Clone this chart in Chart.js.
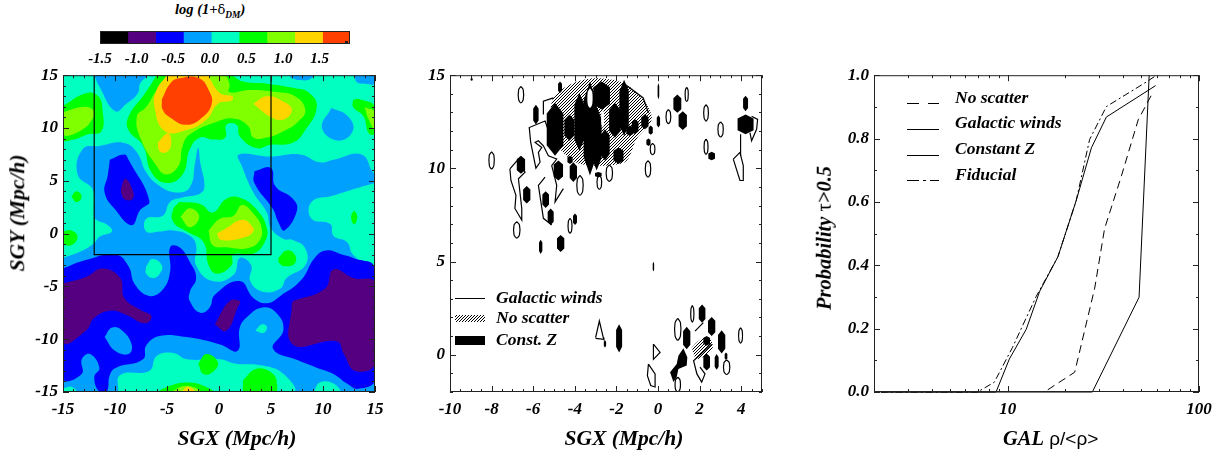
<!DOCTYPE html>
<html>
<head>
<meta charset="utf-8">
<script src="https://cdn.jsdelivr.net/npm/chart.js@4"></script>
<style>
  html, body { margin: 0; padding: 0; background: #fff; }
  body { width: 1225px; height: 452px; position: relative; overflow: hidden; font-family: "Liberation Serif", serif; }
  canvas { position: absolute; }
  .txt { position: absolute; white-space: nowrap; color: #000; line-height: 1; }
  .bi { font-weight: bold; font-style: italic; }
  .axt { font-weight: bold; font-style: italic; font-size: 21.5px; transform: translate(-50%, -50%); }
  .rot { transform: translate(-50%, -50%) rotate(-90deg); }
  sub { font-size: 65%; line-height: 0; }
</style>
</head>
<body>
<canvas id="barChart" width="340" height="50" style="left:60px;top:20px"></canvas>
<canvas id="mapChart" width="400" height="392" style="left:0;top:60px"></canvas>
<canvas id="maskChart" width="380" height="392" style="left:400px;top:60px"></canvas>
<canvas id="probChart" width="425" height="392" style="left:800px;top:60px"></canvas>
<div class="txt bi" style="left:175px;top:2px;font-size:14.5px">log (1+<span style="font-family:'DejaVu Serif';font-style:normal;font-weight:normal;font-size:13px">δ</span><sub>DM</sub>)</div>
<div class="txt axt" style="left:237px;top:439px">SGX (Mpc/h)</div>
<div class="txt axt rot" style="left:18px;top:213px">SGY (Mpc/h)</div>
<div class="txt axt" style="left:624px;top:439px">SGX (Mpc/h)</div>
<div class="txt axt rot" style="left:824px;top:238px;font-size:20.5px">Probability <span style="font-style:normal;font-weight:normal">τ</span>&gt;0.5</div>
<div class="txt" style="left:1003px;top:428px;font-size:19px;font-family:'Liberation Sans'"><span class="bi" style="font-family:'Liberation Serif';font-size:20.5px">GAL</span> ρ/&lt;ρ&gt;</div>
<script>
// colour bar
const barEdges = [-1.5, -1.12, -0.74, -0.36, 0.02, 0.40, 0.78, 1.16, 1.54, 1.92];
const barColors = ['#000000', '#550080', '#0000ff', '#00a0ff', '#00ffc0', '#00ff00', '#80ff00', '#ffd500', '#ff4000'];
const barTicks = [-1.5, -1, -0.5, 0, 0.5, 1, 1.5];

// left panel contours, [SGX, SGY] in Mpc/h, one list per level
const lightBlueBase = [[-15, 15], [15, 15], [15, -15], [-15, -15]];
const tealRegions = [
  [[-15, -2.3], [-13.1, -1.6], [-12, -0.9], [-11.5, -0.3], [-10.3, 0.2], [-10.7, 0.8], [-11.8, 1.3], [-12, 1.7], [-12.1, 4.1], [-13.6, 5.6], [-13.1, 8], [-11.5, 8.3], [-9.2, 8.6], [-7.9, 7.7], [-7, 5.8], [-5.7, 4.5], [-4.1, 3.9], [-2.8, 4.4], [-2.3, 6.7], [-2, 8.1], [-1.8, 6.7], [-1.4, 4.5], [-1.8, 3.8], [-3.6, 3.4], [-4.7, 3], [-5.4, 1.7], [-7, 1.4], [-7, 0.2], [-5.7, 0.2], [-4.4, 0.3], [-2.8, -0.2], [-2.2, -1.1], [-2.2, -3], [-0.6, -4.5], [1.4, -3.9], [2, -2.3], [3.1, -3], [3, -4.5], [4.2, -5.5], [5.9, -5.2], [6.5, -4.2], [8.3, -3], [8.3, -1.4], [7.1, -0.6], [6.2, -0.5], [5, 0.5], [4.6, 2], [3.3, 3.9], [2.2, 6.4], [1.9, 7.5], [4.9, 7.3], [7.8, 7.5], [9.7, 6.75], [11, 7], [13.7, 7.5], [14.8, 5.8], [15, 5.7], [15, 14.9], [15, 15], [14.9, 15], [-14.9, 15], [-15, 15], [-15, 14.9]],
  [[15, 4.8], [12.9, 4.2], [11, 3.6], [8.9, 3], [8.9, 1.4], [10.7, 0.9], [11, -0.2], [12.3, -0.8], [12.9, -2], [15, -3.3]],
  [[-9.7, -15], [-9.5, -13.4], [-6.7, -13], [-6, -11.6], [-4.4, -11.3], [-3.1, -11.9], [0.1, -11.9], [1.5, -12.3], [4.2, -12.5], [6.2, -13.3], [7.1, -15]],
  [[9.1, -15], [9.7, -14.1], [11, -14.2], [11.6, -15]],
  [[-15, -14.7], [-14.2, -14.5], [-13.7, -15], [-15, -15]],
  [[-7, -3.1], [-6.4, -2.4], [-5.5, -3], [-5.7, -3.8], [-6.3, -4.2], [-7, -3.8]],
];
const lightBlueHoles = [
  [[-12, 15], [-11.5, 13.9], [-10, 11.6], [-8.9, 12.3], [-7.8, 13.3], [-7.6, 14.2], [-7, 15]],
  [[10.8, 11.9], [9.9, 10], [11.5, 8.8], [12.9, 9.8], [12.3, 11.2]],
  [[13, 15], [13.3, 14.3], [14, 14.2], [15, 14.2], [15, 15]],
  [[6.8, 15], [7, 14.7], [8.2, 14.5], [8.9, 14.7], [9, 15]],
];
const blueRegions = [
  [[-15, -3.3], [-12.8, -2.5], [-9.9, -2], [-8.7, -3.1], [-8.1, -4.8], [-6.7, -5.9], [-5.4, -5.3], [-4.7, -3.6], [-4.7, -1.3], [-3.8, -1.3], [-2.8, -2.7], [-2.2, -4.2], [-2.8, -5.5], [-2.8, -6.4], [-1.8, -7.5], [-0.9, -7], [-0.4, -5.8], [2, -4.5], [3.3, -6.1], [4.6, -6.6], [5.9, -5.9], [7.9, -4.4], [9.2, -2.3], [10.3, -1.6], [11.9, -2], [12.9, -2.3], [15, -3.3], [15, -13.8], [13.4, -14.7], [12.3, -14.2], [11, -13.3], [9.4, -12.7], [7.6, -12], [5.2, -10.9], [6.2, -9.1], [5.5, -7.5], [4.2, -7], [2.8, -7.8], [2, -8.9], [1.8, -11.1], [0.1, -10.5], [-3.1, -9.8], [-5.7, -9.7], [-7, -10.6], [-7.3, -11.9], [-9.9, -12.7], [-10.5, -13.4], [-10.8, -15], [-11.5, -15], [-12, -13.6], [-11.5, -12.7], [-12.4, -11.4], [-13.2, -11.9], [-13.2, -13.3], [-15, -13.7]],
  [[-10.5, 7], [-9.1, 7.5], [-8.7, 7], [-6.7, 3.1], [-7.6, 2.2], [-8.4, 0.8], [-10, 2.3], [-11, 3.9], [-10.7, 5.5]],
  [[3.4, 5.9], [5, 6.2], [5.4, 4.5], [7.1, 3.3], [7.5, 2.2], [6.3, 0.3], [5.7, 1.1], [5.2, 2.3], [3.4, 4.8]],
];
const lightBlueIslands = [
  [[-11, -9.8], [-10.3, -8.9], [-9.4, -9.1], [-8.4, -10.5], [-8.7, -11.4], [-10, -11.1]],
];
const tealSpots = [
  [[3.5, -9.2], [4.1, -8.6], [4.6, -8.8], [4.3, -9.4]],
];
const purpleRegions = [
  [[-15, -4.7], [-12.8, -4.1], [-11.2, -3.3], [-9.5, -4.2], [-9.1, -6.1], [-7.6, -7.2], [-6.5, -7.8], [-7.1, -8.5], [-8.9, -7.7], [-10.5, -7.3], [-12, -8], [-12.8, -9.2], [-15, -10.3]],
  [[7.1, -6.4], [10.2, -5.2], [11, -3.4], [12.9, -4.2], [15, -4.7], [15, -12.3], [13.1, -13], [12, -11.4], [11.3, -10.2], [7.1, -10.5], [7, -6.7]],
  [[-0.4, -8.6], [1, -6.4], [2, -6.4], [1.8, -7], [0.7, -9.2]],
  [[-9.4, 4.4], [-9, 5.2], [-8.3, 4.1], [-8.3, 3.3], [-9, 3.2], [-9.4, 3.8]],
];
const greenRegions = [
  [[-6, 15], [-7.1, 13.3], [-8.7, 11.1], [-8.7, 9.8], [-7.3, 8.3], [-6.5, 5.8], [-5.1, 4.8], [-3.5, 5.6], [-2.8, 8], [-1.8, 9.1], [-0.6, 8.9], [0.6, 9.1], [0.7, 10.3], [1.7, 10.3], [2, 9.2], [3.6, 8.1], [4.9, 8.4], [7.1, 8.6], [8.3, 9.8], [9.4, 12], [8.7, 13.3], [7.1, 13.8], [4.6, 14.2], [2.3, 14.4], [1, 15]],
  [[-15, 12.1], [-12.8, 13.3], [-11.6, 13], [-11.2, 11.7], [-11.3, 9.7], [-12.6, 9.4], [-14, 8.9], [-15, 8.9]],
  [[12.9, 12.7], [13.6, 12.7], [15, 12], [15, 9.5], [14.4, 9.5], [13.9, 11.1], [12.9, 12]],
  [[-3.8, 3], [-1.8, 2.8], [-0.6, 2], [0.7, 3.3], [2, 3.4], [3.6, 2.3], [4.6, 0.5], [4.4, -0.8], [3.3, -1.9], [1.4, -2], [1.2, -3], [-0.2, -3.8], [-1, -3], [-1.5, -0.8], [-3.1, 0.2], [-4.4, 1.1], [-4.4, 2.3]],
  [[5.7, -2.3], [6.5, -1.6], [7.3, -2], [7.3, -2.8], [6.5, -3.1], [5.8, -2.8]],
  [[-14.2, 3.5], [-13.7, 4], [-13.2, 3.5], [-13.7, 3]],
  [[-15, 0.2], [-14.2, 0.3], [-13.6, -0.3], [-14.2, -1.1], [-15, -0.9]],
  [[13, 2.2], [13.3, 1.6], [13, 0.9], [12.7, 1.6]],
  [[-2, -12.3], [-1.2, -11.4], [-0.1, -12.2], [-0.6, -13.1], [-1.5, -13.3]],
  [[2.3, -13.9], [3.6, -12.8], [5.2, -13.3], [5.6, -14.5], [5.4, -15], [2.5, -15]],
  [[-6, -15], [-4.7, -14.4], [-3.1, -14.1], [-1.5, -14.4], [-0.6, -15]],
];
const limeRegions = [
  [[-5, 15], [-6.2, 13.3], [-7, 12], [-7.9, 11.1], [-7.5, 8.9], [-6, 6.4], [-5.1, 5.6], [-3.9, 6.4], [-3.5, 8.3], [-2.8, 9.4], [-0.2, 10.6], [1.4, 10.9], [2.8, 10.2], [3.3, 9.1], [4.6, 9.1], [6.2, 9.7], [7.6, 10.6], [8.3, 11.7], [7.3, 13], [5.5, 13.4], [3, 13.6], [1, 13.4], [1, 14.2], [0.4, 15]],
  [[-15, 11.5], [-13.1, 12], [-12.1, 11.7], [-12.2, 10.8], [-13.4, 9.7], [-15, 9.4]],
  [[14, 12], [15, 11.5], [15, 9.8], [14.4, 10.8]],
  [[-3.7, 1.6], [-2.8, 2.4], [-1.9, 1.6], [-2.8, 0.6]],
  [[-1, 0.3], [0.1, 1.4], [1.4, 1.7], [2.2, 2.7], [3.3, 1.9], [4.1, 0.5], [3.8, -0.8], [2.6, -1.4], [0.7, -1.3], [-0.6, -1.1]],
  [[-4.7, -15], [-3.1, -14.4], [-1.8, -15]],
];
const yellowRegions = [
  [[-5, 15], [-6, 13.6], [-6.2, 12], [-5.2, 9.7], [-3.1, 9.8], [-1.2, 10.8], [-0.1, 12.3], [1.2, 12.6], [1.3, 13], [0.1, 13.3], [-0.9, 14.7], [-1, 15]],
  [[-5.9, 8.6], [-4.9, 9.5], [-4.6, 8.4], [-5.1, 7.7], [-5.7, 7.8]],
  [[3.3, 12.3], [4.6, 13], [6.2, 12.5], [7, 11.7], [6.2, 10.8], [4.9, 11.1]],
  [[-0.2, 0], [0.7, 0.5], [2.2, 1.3], [3.1, 0.8], [3.3, 0.2], [2.3, -0.4], [0.2, -0.6]],
  [[-3.6, -15], [-3, -14.5], [-2.3, -15]],
];
const redRegions = [
  [[-5.5, 12.7], [-4.7, 14.2], [-3.8, 14.7], [-1.9, 14.7], [-0.9, 13.4], [-0.7, 12.3], [-1.5, 11.1], [-3.1, 10.3], [-4.7, 11], [-5.4, 11.7]],
];
const boxOutline = [[-12, 15], [5, 15], [5, -2], [-12, -2], [-12, 15]];

// middle panel, blobs are [SGX centre, top SGY, bottom SGY, width]
const constZBlobs = [
  [-4.95, 13.51, 10.68, .8], [-4.26, 12.89, 11.48, .48], [-3.78, 14.04, 10.95, .48], [-3.27, 14.66, 9.62, .61],
  [-2.71, 14.66, 13.16, .8], [-2.95, 13.34, 9.88, .48], [-2.07, 13.51, 11.65, .56], [-1.63, 14.75, 11.74, .45],
  [-1.9, 11.12, 10.24, .48], [-2.55, 12.1, 10.42, .45], [-1.1, 12.63, 11.83, .32], [-.63, 12.9, 12.1, .35],
  [-.35, 12.3, 11.8, .2], [-1.35, 12.3, 11.74, .35], [-4.23, 10.68, 10.24, .25],
  [.02, 12.85, 12.2, .16], [-.46, 11.6, 11.2, .2],
  [-6.59, 10.68, 9.71, .4], [-6.31, 9.05, 8.12, .35], [-5.4, 8.77, 7.88, .32], [-5.16, 7.85, 6.96, .29],
  [-4.79, 10.42, 9.35, .45], [-4.07, 10.33, 9.27, .35], [-4.68, 6.43, 5.51, .35], [-3.99, 7.58, 6.96, .19],
  [.93, 13.96, 12.98, .38], [1.19, 13.07, 12.06, .4], [4.21, 13.9, 13.07, .24], [4.21, 12.89, 11.83, .77],
  [2.58, 10.89, 10.43, .32], [.02, 14.58, 13.69, .08], [-2.87, 9.8, 9.53, .32], [-5.87, 13.42, 12.36, .26],
  [-4.71, 14.66, 14.04, .19], [-5.64, 6.17, 5.41, .16], [-.22, 4.99, 4.46, .07], [-8.96, 14.85, 14.7, .1],
  [-1.87, 1.63, .12, .29], [-2.55, .78, .39, .11], [2.12, 2.69, 1.72, .32], [2.58, 2.02, 1.01, .35],
  [1.38, 1.5, .3, .35], [3.06, 1.31, .07, .35], [2.34, .07, -.85, .32], [2.82, .04, -.81, .19],
  [2.34, 1.01, .48, .32], [3.27, .12, -.28, .13],
];
const constZChain = [[1.22, .35], [1.41, -.14], [1.38, -.58], [.98, -.76], [.9, -1.2], [.74, -1.47], [.58, -.94], [.9, -.5], [.98, -.05]];
const whiteGaps = [[-3.27, 14.3, 13.25, .22], [-2.66, 13.16, 12.19, .13]];
const windOvals = [
  [-6.59, 14.4, 13.51, .22], [-8, 10.89, 9.97, .22], [1.38, 14.35, 13.6, .13], [.5, 13.16, 12.4, .19],
  [2.31, 13.42, 12.54, .19], [3.01, 12.49, 11.69, .22], [-.26, 11.34, 10.73, .19], [-.48, 10.42, 9.53, .22],
  [-2.34, 10.19, 9.3, .26], [-2.82, 9.62, 8.88, .19], [-3.75, 9.62, 8.56, .26], [-4.23, 7.32, 6.52, .16],
  [-6.79, 7.14, 6.26, .26], [2.31, 11.57, 10.75, .16], [1.65, 2.64, 1.75, .13], [.95, 1.95, .78, .26],
  [3.97, 1.45, .62, .16], [3.3, -.28, -1.06, .26], [.95, -1.2, -2, .22],
];
const windLines = [
  [[-7.12, 9.97], [-7.07, 9.35], [-6.83, 8.56], [-6.88, 7.85], [-6.55, 7.23], [-6.55, 7.85], [-6.71, 9.44], [-6.39, 9.8], [-6.71, 10.5], [-7.12, 9.97]],
  [[-5.32, 12.19], [-5.43, 12.54], [-6.19, 12.19], [-6.12, 11.39], [-5.87, 10.01], [-5.67, 10.33], [-5.75, 10.86], [-5.59, 11.12], [-5.91, 11.39], [-5.75, 11.48], [-5.51, 11.21], [-5.27, 10.68], [-4.87, 10.5], [-5.11, 10.15], [-4.87, 9.09], [-4.95, 8.2], [-4.55, 8.91]],
  [[-5.43, 9.53], [-5.75, 9.09], [-5.51, 7.32], [-5.11, 6.96]],
  [[-5.51, 12.89], [-5.51, 13.6], [-5.03, 13.78]],
  [[-1.67, 14.58], [-.71, 13.78], [-.46, 12.98]],
  [[3.62, 10.5], [3.94, 10.86], [4.1, 10.15], [4.1, 9.35], [3.94, 9.35], [3.62, 10.5]],
  [[4.5, 12.8], [4.79, 12.63], [4.74, 12.1], [4.5, 11.48], [4.42, 11.92]],
  [[3.97, 11.83], [3.97, 10.68]],
  [[-3, .92], [-2.82, 1.81], [-2.63, .92], [-2.6, .83], [-3, .88]],
  [[-.22, .57], [.1, .12], [-.22, -.25], [-.22, .57]],
  [[-.46, -.5], [-.14, -1.03], [-.14, -1.73], [-.35, -1.65], [-.51, -1.12], [-.46, -.5]],
  [[1.78, 1.27], [2.18, 1.72]],
  [[2.58, .57], [1.71, -.32], [1.87, -1.03], [2.1, -1.47], [2.26, -1.03], [2.02, -.67]],
];
const noScatterPatches = [
  [[-5.2, 12.27], [-5.03, 13.8], [-4.07, 14.58], [-2.95, 14.84], [-1.67, 14.58], [-.71, 13.69], [-.3, 12.63], [-1.03, 11.57], [-1.6, 10.33], [-3.75, 10.24], [-4.71, 11.04]],
  [[1.62, .39], [2.18, .92], [2.58, .74], [2.58, .21], [1.86, -.23]],
];

// right panel curves
const noScatterX = [16.2, 22.4, 28.5, 32.1, 39.3, 48.1, 56.5];
const noScatterY = [0.007, 0.0625, 0.328, 0.516, 0.682, 0.859, 0.938];
const windsX = [2.17, 8.69, 10.2, 12.5, 14.7, 18.3, 22.8, 27.4, 32.8, 59.3];
const windsY = [0, 0, 0.104, 0.198, 0.318, 0.427, 0.604, 0.771, 0.868, 0.967];
const constZX = [2.17, 27.7, 48.6, 54.9];
const constZY = [0, 0, 0.299, 1];
const fiducialX = [2.17, 6.96, 8.51, 10.6, 14.1, 18.3, 22.8, 26.8, 32.8, 53.2, 60];
const fiducialY = [0, 0, 0.031, 0.141, 0.302, 0.427, 0.604, 0.797, 0.901, 0.979, 1];

const logXMajor = [10, 100];
const logXMinor = [2, 3, 4, 5, 6, 7, 8, 9, 20, 30, 40, 50, 60, 70, 80, 90];
const probMajor = [0, 0.2, 0.4, 0.6, 0.8, 1];
const probMinor = [0.1, 0.3, 0.5, 0.7, 0.9];

const SERIF = 'Liberation Serif';
const tickFont = { family: SERIF, size: 17, weight: 'bold', style: 'italic' };
const legendFont = 'italic bold 17.5px "Liberation Serif"';

function range(from, to, step) {
  const out = [];
  for (let v = from; v <= to + 1e-9; v += step) out.push(+v.toFixed(3));
  return out;
}
function hexOutline(b) {
  const [cx, top, bot, w] = b;
  const h = (top - bot) * 0.2;
  return [[cx, top], [cx + w / 2, top - h], [cx + w / 2, bot + h], [cx, bot], [cx - w / 2, bot + h], [cx - w / 2, top - h], [cx, top]];
}
function toPoints(list) { return list.map(p => ({ x: p[0], y: p[1] })); }
function closed(list) { return list.concat([list[0]]); }
function area(list, color, tension) {
  return { data: toPoints(closed(list)), showLine: true, fill: 'shape', backgroundColor: color, borderColor: color, borderWidth: 0, pointRadius: 0, tension: tension };
}
function outline(list, tension) {
  return { data: toPoints(list), showLine: true, fill: false, borderColor: '#000', borderWidth: 1.2, pointRadius: 0, tension: tension || 0 };
}

// IDL style frame with inward ticks on all four sides
const frameTicks = {
  id: 'frameTicks',
  afterDatasetsDraw(chart, args, opts) {
    const { ctx, chartArea: a, scales } = chart;
    ctx.save();
    ctx.strokeStyle = '#222';
    ctx.lineWidth = 1;
    ctx.strokeRect(a.left + 0.5, a.top + 0.5, a.right - a.left - 1, a.bottom - a.top - 1);
    ctx.beginPath();
    const xTick = (v, len) => {
      const x = Math.round(scales.x.getPixelForValue(v)) + 0.5;
      ctx.moveTo(x, a.bottom); ctx.lineTo(x, a.bottom - len);
      if (!opts.bottomOnly) { ctx.moveTo(x, a.top); ctx.lineTo(x, a.top + len); }
    };
    const yTick = (v, len) => {
      const y = Math.round(scales.y.getPixelForValue(v)) + 0.5;
      ctx.moveTo(a.left, y); ctx.lineTo(a.left + len, y);
      ctx.moveTo(a.right, y); ctx.lineTo(a.right - len, y);
    };
    (opts.xMajor || []).forEach(v => xTick(v, 6));
    (opts.xMinor || []).forEach(v => xTick(v, 3));
    (opts.yMajor || []).forEach(v => yTick(v, 6));
    (opts.yMinor || []).forEach(v => yTick(v, 3));
    ctx.stroke();
    ctx.restore();
  }
};

// legend drawn inside the plot: keys and labels
function insetLegend(id, items, keyX, keyW, textX) {
  return {
    id: id,
    afterDraw(chart) {
      const { ctx } = chart;
      ctx.save();
      ctx.font = legendFont;
      ctx.textBaseline = 'middle';
      items.forEach(it => {
        ctx.fillStyle = '#000';
        ctx.fillText(it.label, textX, it.textY);
        if (it.swatch) {
          ctx.fillStyle = it.swatch;
          ctx.fillRect(keyX, it.y, keyW, it.h);
        } else {
          ctx.strokeStyle = '#000';
          ctx.lineWidth = 1;
          ctx.setLineDash(it.dash || []);
          ctx.beginPath();
          ctx.moveTo(keyX, it.y + 0.5);
          ctx.lineTo(keyX + keyW, it.y + 0.5);
          ctx.stroke();
        }
      });
      ctx.restore();
    }
  };
}

function hatchPattern() {
  const c = document.createElement('canvas');
  c.width = 3; c.height = 3;
  const g = c.getContext('2d');
  g.fillStyle = '#fff';
  g.fillRect(0, 0, 3, 3);
  g.strokeStyle = '#000';
  g.lineWidth = 1;
  g.beginPath();
  g.moveTo(-1, 4); g.lineTo(4, -1);
  g.moveTo(-1, 1); g.lineTo(1, -1);
  g.moveTo(2, 4); g.lineTo(4, 2);
  g.stroke();
  return g.createPattern(c, 'repeat');
}

function linearAxis(min, max, major, width, height, fmt, pad, font) {
  return {
    type: 'linear', min: min, max: max,
    afterBuildTicks: s => { s.ticks = major.map(v => ({ value: v })); },
    afterFit: s => { if (width) s.width = width; if (height) s.height = height; },
    grid: { display: false, drawTicks: false },
    border: { display: false },
    ticks: { font: font || tickFont, color: '#000', padding: pad, autoSkip: false, maxRotation: 0, callback: fmt || (v => String(v)) }
  };
}
const baseOptions = { responsive: false, animation: false, events: [] };

// colour bar
new Chart(document.getElementById('barChart'), {
  type: 'bar',
  data: {
    labels: ['level'],
    datasets: barColors.map((c, i) => ({ data: [[barEdges[i], barEdges[i + 1]]], backgroundColor: c, grouped: false, barPercentage: 1, categoryPercentage: 1 }))
  },
  options: Object.assign({}, baseOptions, {
    indexAxis: 'y',
    layout: { padding: { left: 40, right: 50, top: 11 } },
    scales: {
      x: linearAxis(-1.5, 1.915, barTicks, 0, 26, v => v.toFixed(1), 6, { family: SERIF, size: 15, weight: 'bold', style: 'italic' }),
      y: { display: false }
    },
    plugins: { legend: { display: false }, tooltip: { enabled: false }, frameTicks: { xMinor: [1.84, 1.86, 1.88, 1.9], bottomOnly: true } }
  }),
  plugins: [frameTicks]
});

// density map, painted from lowest layer up
const mapLayers = [area(lightBlueBase, barColors[3], 0)];
const addLayer = (regions, color) => regions.forEach(r => mapLayers.push(area(r, color, 0.45)));
addLayer(tealRegions, barColors[4]);
addLayer(lightBlueHoles, barColors[3]);
addLayer(blueRegions, barColors[2]);
addLayer(lightBlueIslands, barColors[3]);
addLayer(tealSpots, barColors[4]);
addLayer(purpleRegions, barColors[1]);
addLayer(greenRegions, barColors[5]);
addLayer(limeRegions, barColors[6]);
addLayer(yellowRegions, barColors[7]);
addLayer(redRegions, barColors[8]);
mapLayers.push(outline(boxOutline));

new Chart(document.getElementById('mapChart'), {
  type: 'scatter',
  data: { datasets: mapLayers.reverse() },
  options: Object.assign({}, baseOptions, {
    layout: { padding: { top: 12, right: 25 } },
    scales: {
      x: linearAxis(-15, 15, range(-15, 15, 5), 0, 60, null, 7),
      y: linearAxis(-15, 15, range(-15, 15, 5), 63, 0, null, 5)
    },
    plugins: {
      legend: { display: false }, tooltip: { enabled: false },
      frameTicks: { xMajor: range(-15, 15, 5), xMinor: range(-15, 15, 1), yMajor: range(-15, 15, 5), yMinor: range(-15, 15, 1) }
    }
  }),
  plugins: [frameTicks]
});

// overlap mask panel
const hatch = hatchPattern();
const maskLayers = [];
noScatterPatches.forEach(p => maskLayers.push(area(p, hatch, 0.3)));
windOvals.forEach(b => maskLayers.push(outline(hexOutline(b), 0.3)));
windLines.forEach(l => maskLayers.push(outline(l)));
constZBlobs.forEach(b => maskLayers.push(area(hexOutline(b), '#000', 0)));
maskLayers.push(area(constZChain, '#000', 0));
whiteGaps.forEach(b => maskLayers.push(area(hexOutline(b), '#fff', 0.3)));

const maskLegendItems = [
  { label: 'Galactic winds', y: 238, textY: 238 },
  { label: 'No scatter', y: 255, h: 7, swatch: hatch, textY: 258 },
  { label: 'Const. Z', y: 276, h: 9, swatch: '#000', textY: 280 }
];
new Chart(document.getElementById('maskChart'), {
  type: 'scatter',
  data: { datasets: maskLayers.reverse() },
  options: Object.assign({}, baseOptions, {
    layout: { padding: { top: 12, right: 18 } },
    scales: {
      x: linearAxis(-10, 5, range(-10, 4, 2), 0, 60, null, 7),
      y: linearAxis(-2, 15, [0, 5, 10, 15], 50, 0, null, 5)
    },
    plugins: {
      legend: { display: false }, tooltip: { enabled: false },
      frameTicks: { xMajor: range(-10, 4, 2), xMinor: range(-10, 5, 0.5), yMajor: [0, 5, 10, 15], yMinor: range(-2, 15, 1) }
    }
  }),
  plugins: [frameTicks, insetLegend('maskLegend', maskLegendItems, 55, 30, 96)]
});

// probability curves
const curve = (xs, ys, dash) => ({
  data: xs.map((x, i) => ({ x: x, y: ys[i] })), showLine: true, fill: false, borderColor: '#000', borderWidth: 1, borderDash: dash || [], pointRadius: 0, tension: 0, clip: false
});
const probLegendItems = [
  { label: 'No scatter', y: 43, dash: [12, 9], textY: 38 },
  { label: 'Galactic winds', y: 69, textY: 63 },
  { label: 'Constant Z', y: 95, textY: 89 },
  { label: 'Fiducial', y: 120, dash: [12, 4, 3, 4], textY: 115 }
];
new Chart(document.getElementById('probChart'), {
  type: 'scatter',
  data: {
    datasets: [
      curve(noScatterX, noScatterY, [8, 5]),
      curve(windsX, windsY),
      curve(constZX, constZY),
      curve(fiducialX, fiducialY, [7, 3, 2, 3])
    ]
  },
  options: Object.assign({}, baseOptions, {
    layout: { padding: { top: 12, right: 26 } },
    scales: {
      x: {
        type: 'logarithmic', min: 2, max: 100,
        afterBuildTicks: s => { s.ticks = logXMajor.map(v => ({ value: v })); },
        grid: { display: false, drawTicks: false },
        border: { display: false },
        ticks: { font: tickFont, color: '#000', padding: 7, autoSkip: false, maxRotation: 0, callback: v => String(v) },
        afterFit: s => { s.height = 60; }
      },
      y: linearAxis(0, 1, probMajor, 74, 0, v => v.toFixed(1), 5)
    },
    plugins: {
      legend: { display: false }, tooltip: { enabled: false },
      frameTicks: { xMajor: logXMajor, xMinor: logXMinor, yMajor: probMajor, yMinor: probMinor }
    }
  }),
  plugins: [frameTicks, insetLegend('probLegend', probLegendItems, 107, 32, 155)]
});
</script>
</body>
</html>
